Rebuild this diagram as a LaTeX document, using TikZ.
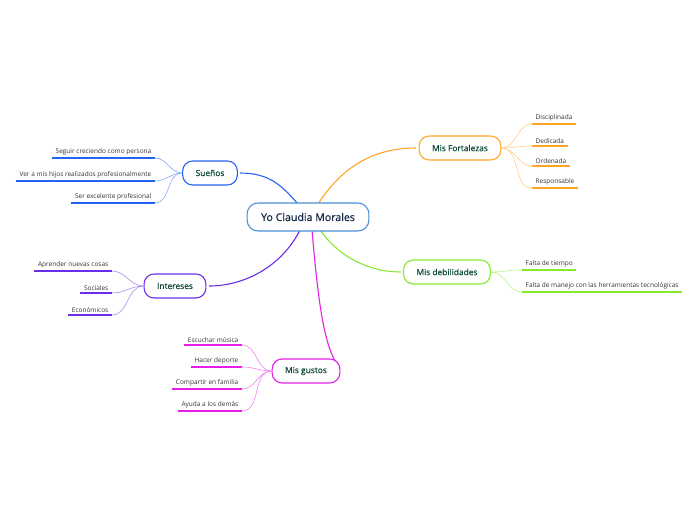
\documentclass[tikz,border=0pt]{standalone}
\usepackage{fontspec}
\setmainfont{Open Sans}
\newfontfamily\headfont[FakeBold=0.5]{Open Sans}
\usetikzlibrary{positioning,calc}
\definecolor{ccentral}{HTML}{4A8FD8}
\definecolor{csuenos}{HTML}{2463F5}
\definecolor{cfuerza}{HTML}{FFA526}
\definecolor{cdebil}{HTML}{86E92E}
\definecolor{cinteres}{HTML}{6A2EE6}
\definecolor{cgustos}{HTML}{E51FE8}
\definecolor{ctitle}{HTML}{0F4A3A}
\definecolor{cnavy}{HTML}{172A4A}
\definecolor{cleaf}{HTML}{333333}
\tikzset{
  central/.style = {draw=ccentral, line width=1.1pt, rounded corners=11pt,
                    minimum height=28pt, inner xsep=14pt, text=cnavy,
                    font=\headfont\fontsize{10.6}{12}\selectfont, fill=white},
  topic/.style   = {draw=#1, line width=1.1pt, rounded corners=10pt,
                    minimum height=24pt, inner xsep=13pt, text=ctitle,
                    font=\headfont\fontsize{8.4}{10}\selectfont, fill=white},
  leaf/.style    = {inner xsep=3.5pt, inner ysep=2.5pt, text=cleaf,
                    font=\fontsize{6.5}{7.5}\selectfont},
  leafL/.style   = {leaf, anchor=south east},
  leafR/.style   = {leaf, anchor=south west},
  trunk/.style   = {#1, line width=1.1pt},
  twig/.style    = {#1!55, line width=0.6pt},
}
\newcommand{\underl}[2]{\draw[#2, line width=1.5pt] (#1.south west) -- (#1.south east);}

\begin{document}
\begin{tikzpicture}[x=1pt,y=-1pt]
\useasboundingbox[fill=white] (0,0) rectangle (696,520);
% main connectors (drawn first, under the nodes)
\coordinate (pS) at (298,204);
\coordinate (pF) at (318,204);
\coordinate (pD) at (320,230);
\coordinate (pI) at (300,230);
\coordinate (pG) at (312,230);
\draw[trunk=csuenos]  (pS) .. controls (282,186) and (270,173) .. (240,173);
\draw[trunk=cfuerza]  (pF) .. controls (340,170) and (370,148) .. (416,148);
\draw[trunk=cdebil]   (pD) .. controls (340,258) and (370,272) .. (401,272);
\draw[trunk=cinteres] (pI) .. controls (282,266) and (245,286) .. (209,286);
\draw[trunk=cgustos]  (pG) .. controls (318,300) and (324,350) .. (340,368);
% central and topic nodes
\node[central] (C) at (308,217) {Yo Claudia Morales};
\node[topic=csuenos]  (S) at (210,173) {Sueños};
\node[topic=cfuerza]  (F) at (460,148) {Mis Fortalezas};
\node[topic=cdebil]   (D) at (447,272) {Mis debilidades};
\node[topic=cinteres] (I) at (175,286) {Intereses};
\node[topic=cgustos]  (G) at (306,371) {Mis gustos};
% branch: Sueños
\node[leafL] (s1) at (155,158) {Seguir creciendo como persona};
\node[leafL] (s2) at (155,181) {Ver a mis hijos realizados profesionalmente};
\node[leafL] (s3) at (155,203) {Ser excelente profesional};
\foreach \n in {s1,s2,s3} {\draw[twig=csuenos] (S.west) to[out=180,in=0] (\n.south east);}
\underl{s1}{csuenos} \underl{s2}{csuenos} \underl{s3}{csuenos}
% branch: Mis Fortalezas
\node[leafR] (f1) at (532,124) {Disciplinada};
\node[leafR] (f2) at (532,146) {Dedicada};
\node[leafR] (f3) at (532,166) {Ordenada};
\node[leafR] (f4) at (532,188) {Responsable};
\foreach \n in {f1,f2,f3,f4} {\draw[twig=cfuerza] (F.east) to[out=0,in=180] (\n.south west);}
\underl{f1}{cfuerza} \underl{f2}{cfuerza} \underl{f3}{cfuerza} \underl{f4}{cfuerza}
% branch: Mis debilidades
\node[leafR] (d1) at (522,270) {Falta de tiempo};
\node[leafR] (d2) at (522,292) {Falta de manejo con las herramientas tecnológicas};
\foreach \n in {d1,d2} {\draw[twig=cdebil] (D.east) to[out=0,in=180] (\n.south west);}
\underl{d1}{cdebil} \underl{d2}{cdebil}
% branch: Intereses
\node[leafL] (i1) at (112,271) {Aprender nuevas cosas};
\node[leafL] (i2) at (112,293) {Sociales};
\node[leafL] (i3) at (112,315) {Económicos};
\foreach \n in {i1,i2,i3} {\draw[twig=cinteres] (I.west) to[out=180,in=0] (\n.south east);}
\underl{i1}{cinteres} \underl{i2}{cinteres} \underl{i3}{cinteres}
% branch: Mis gustos
\node[leafL] (g1) at (242,345) {Escuchar música};
\node[leafL] (g2) at (242,367) {Hacer deporte};
\node[leafL] (g3) at (242,389) {Compartir en familia};
\node[leafL] (g4) at (242,411) {Ayuda a los demás};
\foreach \n in {g1,g2,g3,g4} {\draw[twig=cgustos] (G.west) to[out=180,in=0] (\n.south east);}
\underl{g1}{cgustos} \underl{g2}{cgustos} \underl{g3}{cgustos} \underl{g4}{cgustos}
\end{tikzpicture}
\end{document}
